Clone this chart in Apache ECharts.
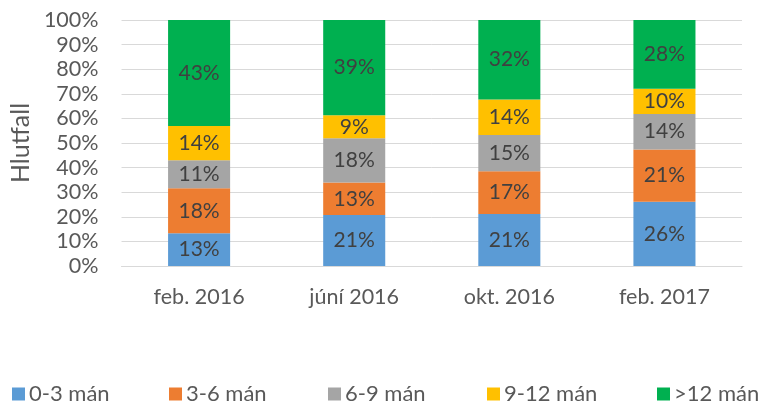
<!DOCTYPE html>
<html>
<head>
<meta charset="utf-8">
<script src="https://cdn.jsdelivr.net/npm/echarts@6/dist/echarts.min.js"></script>
<style>html,body{margin:0;padding:0;background:#fff;}#c{width:761px;height:405px;}</style>
</head>
<body>
<div id="c"></div>
<script>
var categories = ['feb. 2016', 'júní 2016', 'okt. 2016', 'feb. 2017'];
var seriesNames = ['0-3 mán', '3-6 mán', '6-9 mán', '9-12 mán', '>12 mán'];
var s0_3 = [13.3, 20.7, 21.1, 26.1];
var s3_6 = [18.3, 13.2, 17.4, 21.3];
var s6_9 = [11.4, 18.0, 14.8, 14.4];
var s9_12 = [13.9, 9.4, 14.4, 10.3];
var s12p = [43.1, 38.7, 32.3, 27.9];
var yTicks = [0, 10, 20, 30, 40, 50, 60, 70, 80, 90, 100];

var colors = ['#5B9BD5', '#ED7D31', '#A5A5A5', '#FFC000', '#00B050'];
var font = 'Lato, "Open Sans", sans-serif';
var dataSets = [s0_3, s3_6, s6_9, s9_12, s12p];
var legendLeft = [12, 169, 328, 487, 657];

var chart = echarts.init(document.getElementById('c'), null, {renderer: 'canvas'});
chart.setOption({
  animation: false,
  color: colors,
  textStyle: {fontFamily: font},
  grid: {left: 121, right: 19, top: 20, bottom: 139, containLabel: false},
  legend: seriesNames.map(function (n, i) {
    return {
      top: 383, left: legendLeft[i], padding: 0,
      itemWidth: 13, itemHeight: 13, itemGap: 0,
      icon: 'rect',
      textStyle: {fontFamily: font, fontSize: 22, color: '#595959', padding: [0, 0, 0, -1]},
      data: [n]
    };
  }),
  xAxis: {
    type: 'category',
    data: categories,
    axisLine: {lineStyle: {color: '#D9D9D9', width: 1}},
    axisTick: {show: false},
    axisLabel: {fontFamily: font, fontSize: 21.5, color: '#595959', margin: 20}
  },
  yAxis: {
    type: 'value',
    min: yTicks[0], max: yTicks[yTicks.length - 1], interval: 10,
    name: 'Hlutfall',
    nameLocation: 'middle',
    nameGap: 84,
    nameRotate: 90,
    nameTextStyle: {fontFamily: font, fontSize: 25, color: '#595959'},
    axisLine: {show: false},
    axisTick: {show: false},
    splitLine: {lineStyle: {color: '#D9D9D9', width: 1}},
    axisLabel: {fontFamily: font, fontSize: 21.5, color: '#595959', margin: 23, formatter: '{value}%'}
  },
  series: dataSets.map(function (d, i) {
    return {
      name: seriesNames[i],
      type: 'bar',
      stack: 'total',
      barWidth: '40%',
      data: d,
      label: {
        show: true,
        position: 'inside',
        fontFamily: font,
        fontSize: 21,
        color: '#404040',
        formatter: function (p) { return Math.round(p.value) + '%'; }
      }
    };
  })
});
</script>
</body>
</html>
